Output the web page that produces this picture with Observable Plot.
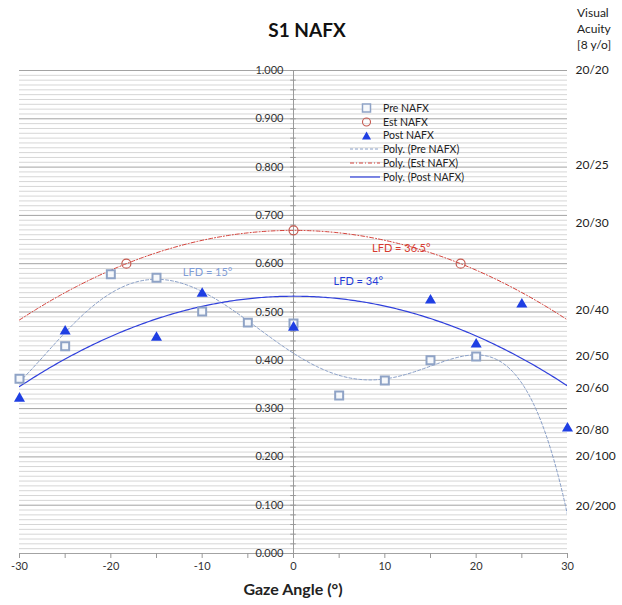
<!DOCTYPE html>
<html><head><meta charset="utf-8">
<script src="https://cdn.jsdelivr.net/npm/d3@7"></script>
<script src="https://cdn.jsdelivr.net/npm/@observablehq/plot@0.6"></script>
<style>
body{margin:0;background:#fff;font-family:Lato,"Open Sans",sans-serif;}
#wrap{position:relative;width:622px;height:605px;overflow:hidden;}
#chart{position:absolute;left:0;top:0;}
#title{position:absolute;left:0;width:614px;top:18px;text-align:center;font-weight:bold;font-size:19px;color:#111;}
#va{position:absolute;left:577px;top:5px;font-size:12px;line-height:16px;color:#222;}
#xlabel{position:absolute;left:0;width:586px;top:579px;text-align:center;font-weight:bold;font-size:16px;color:#222;}
#legend{position:absolute;left:350px;top:101px;font-size:10.5px;color:#222;}
#legend .row{display:flex;align-items:center;height:13.8px;}
#legend svg{display:block;}
</style></head><body>
<div id="wrap">
  <div id="chart"></div>
  <div id="title">S1 NAFX</div>
  <div id="va">Visual<br>Acuity<br>[8 y/o]</div>
  <div id="xlabel">Gaze Angle (°)</div>
  <div id="legend"></div>
</div>
<script>
// ---- data ----
const preAngles = [-30, -25, -20, -15, -10, -5, 0, 5, 10, 15, 20];
const preValues = [0.362, 0.429, 0.578, 0.571, 0.501, 0.478, 0.476, 0.327, 0.358, 0.400, 0.408];
const estAngles = [-18.3, 0, 18.3];
const estValues = [0.600, 0.669, 0.600];
const postAngles = [-30, -25, -15, -10, 0, 15, 20, 25, 30];
const postValues = [0.321, 0.460, 0.447, 0.538, 0.468, 0.524, 0.433, 0.516, 0.259];
const trendDegrees = {pre: 5, est: 2, post: 2};
const acuityLabels = ["20/20", "20/25", "20/30", "20/40", "20/50", "20/60", "20/80", "20/100", "20/200"];
const acuityValues = [1.0, 0.803, 0.683, 0.503, 0.408, 0.342, 0.255, 0.201, 0.099];
const lfdTexts = ["LFD = 15°", "LFD = 36.5°", "LFD = 34°"];
const lfdAngles = [-9.4, 11.8, 7.1];
const lfdValues = [0.582, 0.632, 0.563];
const xTicks = [-30, -25, -20, -15, -10, -5, 0, 5, 10, 15, 20, 25, 30];
const yMajor = [0, 0.1, 0.2, 0.3, 0.4, 0.5, 0.6, 0.7, 0.8, 0.9, 1.0];
const seriesNames = ["Pre NAFX", "Est NAFX", "Post NAFX", "Poly. (Pre NAFX)", "Poly. (Est NAFX)", "Poly. (Post NAFX)"];

// ---- styles ----
const C = {pre: "#8fa3c6", est: "#c65a50", post: "#1f3fe3", preLine: "#8aa0c8", estLine: "#d4413a", postLine: "#3040dc"};
const lfdColors = ["#7f9cd6", "#d63a30", "#263ed8"];

// least-squares polynomial fit (Excel-style trendline)
function polyfit(xs, ys, deg) {
  const s = 30;
  const n = deg + 1;
  const A = Array.from({length: n}, () => new Array(n + 1).fill(0));
  xs.forEach((x0, k) => {
    const x = x0 / s;
    for (let i = 0; i < n; i++) {
      for (let j = 0; j < n; j++) A[i][j] += Math.pow(x, i + j);
      A[i][n] += ys[k] * Math.pow(x, i);
    }
  });
  for (let i = 0; i < n; i++) {
    let p = i;
    for (let r = i + 1; r < n; r++) if (Math.abs(A[r][i]) > Math.abs(A[p][i])) p = r;
    [A[i], A[p]] = [A[p], A[i]];
    for (let r = 0; r < n; r++) {
      if (r === i) continue;
      const f = A[r][i] / A[i][i];
      for (let c = i; c <= n; c++) A[r][c] -= f * A[i][c];
    }
  }
  const coef = A.map((row, i) => row[n] / row[i]);
  return x0 => coef.reduce((acc, c, i) => acc + c * Math.pow(x0 / s, i), 0);
}
const xs = d3.range(-30, 30.001, 0.25);
const fPre = polyfit(preAngles, preValues, trendDegrees.pre);
const fEst = polyfit(estAngles, estValues, trendDegrees.est);
const fPost = polyfit(postAngles, postValues, trendDegrees.post);
const preCurve = xs.map(x => ({x, y: fPre(x)}));
const estCurve = xs.map(x => ({x, y: fEst(x)}));
const postCurve = xs.map(x => ({x, y: fPost(x)}));

const pre = preAngles.map((x, i) => ({x, y: preValues[i]}));
const est = estAngles.map((x, i) => ({x, y: estValues[i]}));
const post = postAngles.map((x, i) => ({x, y: postValues[i]}));
const lfd = lfdTexts.map((t, i) => ({x: lfdAngles[i], y: lfdValues[i], t, c: lfdColors[i]}));
const yMinor = d3.range(0, 101).map(i => i / 100).filter(v => Math.round(v * 100) % 10 !== 0);
const yAxisTicks = d3.range(0, 101, 2).map(i => i / 100);

const chart = Plot.plot({
  width: 622, height: 605,
  marginLeft: 19, marginRight: 55, marginTop: 70, marginBottom: 52,
  style: {fontFamily: "Lato, 'Open Sans', sans-serif", background: "transparent"},
  x: {domain: [-30, 30], axis: null},
  y: {domain: [0, 1], axis: null},
  color: {type: "identity"},
  marks: [
    Plot.ruleY(yMinor, {stroke: "#d6d6d6", strokeWidth: 1}),
    Plot.ruleY(yMajor, {stroke: "#a3a3a3", strokeWidth: 1}),
    Plot.ruleX([0], {stroke: "#9a9a9a", strokeWidth: 1}),
    Plot.ruleY(yAxisTicks, {x1: -0.3, x2: 0.3, stroke: "#9a9a9a"}),
    Plot.text(yMajor, {x: 0, y: d => d, text: d => d3.format(".3f")(d), textAnchor: "end", dx: -10, fontSize: 11, fill: "#333"}),
    Plot.axisX({ticks: xTicks, tickSize: 5, tickPadding: 4, tickFormat: d => (d % 10 === 0 ? String(d) : ""), label: null, fontSize: 11, stroke: "#999", color: "#333"}),
    Plot.text(acuityValues, {x: 30, y: d => d, text: (d, i) => acuityLabels[i], textAnchor: "start", dx: 8, fontSize: 12, fill: "#222"}),
    Plot.line(preCurve, {x: "x", y: "y", stroke: C.preLine, strokeWidth: 1, strokeDasharray: "3,2", clip: true}),
    Plot.line(estCurve, {x: "x", y: "y", stroke: C.estLine, strokeWidth: 1, strokeDasharray: "4,2,1,2", clip: true}),
    Plot.line(postCurve, {x: "x", y: "y", stroke: C.postLine, strokeWidth: 1.2, clip: true}),
    Plot.dot(pre, {x: "x", y: "y", symbol: "square", r: 4.5, stroke: C.pre, strokeWidth: 2, fill: "#f6f8fb"}),
    Plot.dot(est, {x: "x", y: "y", symbol: "circle", r: 4.5, stroke: C.est, strokeWidth: 1.2, fill: "none"}),
    Plot.dot(post, {x: "x", y: "y", symbol: "triangle", r: 4.1, fill: C.post, stroke: "none"}),
    Plot.text(lfd, {x: "x", y: "y", text: "t", fill: "c", fontSize: 11})
  ]
});
document.getElementById("chart").appendChild(chart);

// legend
const legendSyms = [
  `<rect x="12.5" y="3" width="8" height="8" fill="#f6f8fb" stroke="${C.pre}" stroke-width="1.5"/>`,
  `<circle cx="16.5" cy="7" r="4" fill="none" stroke="${C.est}" stroke-width="1.1"/>`,
  `<path d="M16.5,2.5 L21,10.5 L12,10.5 Z" fill="${C.post}"/>`,
  `<line x1="0" x2="30" y1="7" y2="7" stroke="${C.preLine}" stroke-dasharray="3,2"/>`,
  `<line x1="0" x2="30" y1="7" y2="7" stroke="${C.estLine}" stroke-dasharray="4,2,1,2"/>`,
  `<line x1="0" x2="30" y1="7" y2="7" stroke="${C.postLine}" stroke-width="1.2"/>`
];
document.getElementById("legend").innerHTML = seriesNames.map((name, i) =>
  `<div class="row"><svg width="33" height="14">${legendSyms[i]}</svg><span>${name}</span></div>`).join("");
</script>
</body></html>
